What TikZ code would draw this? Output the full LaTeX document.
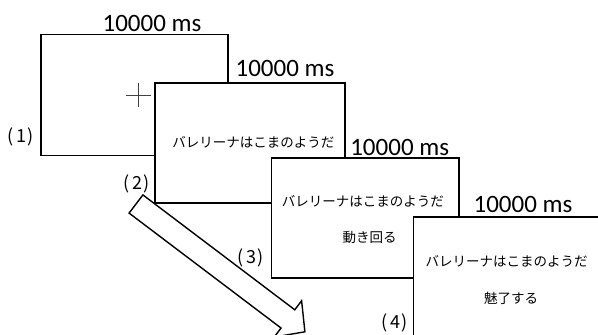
\documentclass[tikz,border=0pt]{standalone}
\usepackage{fontspec}
\setmainfont{Carlito}
\newfontfamily\jp{Noto Sans CJK JP}
\newcommand{\stepno}[1]{(\kern2pt #1\kern2pt)}
\begin{document}
\begin{tikzpicture}[x=1pt,y=-1pt,
  box/.style={draw=black, line width=1.4pt, fill=white, inner sep=0, minimum width=#1, minimum height=120pt},
  ms/.style={font=\fontsize{25}{25}\selectfont, anchor=base, inner sep=0},
  jt/.style={font=\jp\fontsize{13.5}{14}\selectfont, inner sep=0},
  num/.style={font=\jp\fontsize{18}{19}\selectfont, inner sep=0},
  plusline/.style={draw=black!75, line width=0.8pt},
  bigarrow/.style={draw=black, line width=1.4pt, fill=white, line join=miter}]
\useasboundingbox (0,0) rectangle (598,335);
\clip (0,0) rectangle (598,335);
% screens
\node[box=187pt, minimum height=121pt] (s1) at (134.5,95) {};
\node[box=190pt] (s2) at (250,143) {};
\node[box=187.5pt] (s3) at (365.25,218) {};
\node[box=187.5pt] (s4) at (507.25,277) {};
% fixation cross
\draw[plusline] (126,95.7) -- (150.7,95.7);
\draw[plusline] (138.7,83) -- (138.7,107.3);
% durations
\node[ms] (d1) at (152,31.7) {10000 ms};
\node[ms] (d2) at (285,76.5) {10000 ms};
\node[ms] (d3) at (399.7,155) {10000 ms};
\node[ms] (d4) at (523,212.5) {10000 ms};
% sentences
\node[jt] (t2) at (253.3,142.7) {バレリーナはこまのようだ};
\node[jt] (t3a) at (362.8,201.7) {バレリーナはこまのようだ};
\node[jt] (t3b) at (369.7,237.3) {動き回る};
\node[jt] (t4a) at (506.5,261.7) {バレリーナはこまのようだ};
\node[jt] (t4b) at (511,298.3) {魅了する};
% step numbers
\node[num] (n1) at (21,137) {\stepno{1}};
\node[num] (n2) at (137,184) {\stepno{2}};
\node[num] (n3) at (251,258) {\stepno{3}};
\node[num] (n4) at (395,323) {\stepno{4}};
% time arrow
\draw[bigarrow] (142.9,194.9) -- (294.8,309.8) -- (301.6,300.7) -- (304.9,331.8)
  -- (274.2,337.1) -- (281.0,328.0) -- (129.1,213.1) -- cycle;
\end{tikzpicture}
\end{document}
